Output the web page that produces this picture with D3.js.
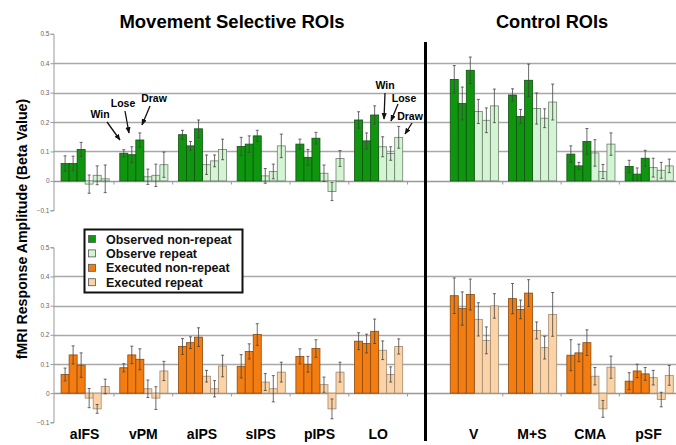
<!DOCTYPE html>
<html><head><meta charset="utf-8">
<script src="https://cdn.jsdelivr.net/npm/d3@7"></script>
<style>body{margin:0;background:#fff}svg{display:block;font-family:Arial,"Liberation Sans",sans-serif}</style>
</head><body><svg id="c" width="676" height="445"></svg>
<script>
const categoriesMove = ["aIFS","vPM","aIPS","sIPS","pIPS","LO"];
const categoriesCtrl = ["V","M+S","CMA","pSF"];
const categories = categoriesMove.concat(categoriesCtrl);
const conditions = ["Win","Lose","Draw"];
const yTicks = [-0.1,0,0.1,0.2,0.3,0.4,0.5];
const gridTicks = [0.1,0.2,0.3,0.4];
const legendLabels = ["Observed non-repeat","Observe repeat","Executed non-repeat","Executed repeat"];

const obsNonRepeat = [[0.059,0.059,0.107],[0.094,0.089,0.139],[0.157,0.119,0.177],[0.117,0.125,0.153],[0.125,0.080,0.145],[0.207,0.136,0.224],[0.345,0.263,0.376],[0.292,0.219,0.342],[0.091,0.051,0.134],[0.049,0.023,0.077]];
const obsNonRepeatErr = [[0.026,0.025,0.024],[0.012,0.027,0.024],[0.015,0.015,0.030],[0.031,0.028,0.019],[0.017,0.027,0.020],[0.028,0.027,0.031],[0.047,0.056,0.045],[0.021,0.024,0.055],[0.028,0.012,0.044],[0.021,0.021,0.027]];
const obsRepeat = [[-0.011,0.019,0.007],[0.014,0.019,0.055],[0.055,0.068,0.107],[0.017,0.032,0.119],[0.026,-0.036,0.076],[0.116,0.093,0.148],[0.236,0.206,0.255],[0.246,0.213,0.268],[0.095,0.032,0.125],[0.045,0.036,0.051]];
const obsRepeatErr = [[0.031,0.032,0.047],[0.026,0.038,0.043],[0.033,0.020,0.035],[0.025,0.025,0.040],[0.028,0.031,0.027],[0.034,0.023,0.037],[0.041,0.042,0.057],[0.053,0.032,0.061],[0.045,0.024,0.038],[0.032,0.027,0.023]];
const exeNonRepeat = [[0.064,0.131,0.096],[0.087,0.131,0.116],[0.160,0.173,0.192],[0.092,0.143,0.201],[0.126,0.099,0.153],[0.178,0.170,0.212],[0.334,0.290,0.338],[0.324,0.287,0.343],[0.130,0.138,0.173],[0.041,0.076,0.066]];
const exeNonRepeatErr = [[0.022,0.031,0.042],[0.014,0.030,0.036],[0.027,0.020,0.032],[0.040,0.026,0.037],[0.026,0.027,0.030],[0.029,0.032,0.042],[0.061,0.057,0.053],[0.052,0.032,0.046],[0.053,0.030,0.044],[0.029,0.023,0.022]];
const exeRepeat = [[-0.017,-0.054,0.023],[0.015,-0.017,0.076],[0.058,0.015,0.093],[0.038,0.015,0.072],[0.029,-0.054,0.072],[0.147,0.064,0.160],[0.253,0.181,0.299],[0.215,0.156,0.270],[0.058,-0.054,0.089],[0.053,-0.022,0.061]];
const exeRepeatErr = [[0.033,0.015,0.025],[0.030,0.039,0.033],[0.020,0.028,0.037],[0.029,0.045,0.034],[0.026,0.034,0.034],[0.032,0.026,0.026],[0.057,0.046,0.042],[0.029,0.039,0.075],[0.030,0.029,0.038],[0.025,0.025,0.034]];

const colors = {obsNR:"#0f960f", obsR:"#d3f5d3", exeNR:"#f47d12", exeR:"#fcd3a6"};
const strokes = {obsNR:"#145214", obsR:"#6f806f", exeNR:"#8a4a10", exeR:"#a08a70"};

const svg = d3.select("#c");
const W = 676;

const xMove = d3.scaleBand().domain(categoriesMove).range([55.3, 407.5]).paddingInner(0.18).paddingOuter(0.09);
const xCtrl = d3.scaleBand().domain(categoriesCtrl).range([444.5, 677.7]).paddingInner(0.18).paddingOuter(0.09);
const xOf = c => categoriesMove.includes(c) ? xMove : xCtrl;
const slots = d3.scaleBand().domain(d3.range(6)).range([0, xMove.bandwidth()]);

const yTop = d3.scaleLinear().domain([-0.1,0.5]).range([210.3, 33.8]);
const yBot = d3.scaleLinear().domain([-0.1,0.5]).range([422.3, 247.3]);

function panel(y, nr, nrErr, r, rErr, kNR, kR) {
  const g = svg.append("g");
  g.selectAll("line.grid").data(gridTicks).join("line")
    .attr("x1", 53.5).attr("x2", W).attr("y1", d => Math.round(y(d))+0.5).attr("y2", d => Math.round(y(d))+0.5)
    .attr("stroke", "#a8a8a8").attr("stroke-width", 1.3);
  const ax = g.append("g").attr("transform", "translate(53.5,0)")
    .call(d3.axisLeft(y).tickValues(yTicks).tickSize(3).tickFormat(d3.format("")));
  ax.select(".domain").attr("stroke", "#999");
  ax.selectAll(".tick line").attr("stroke", "#999");
  ax.selectAll(".tick text").attr("font-size", 6.5).attr("fill", "#666").attr("x", -4);
  const y0 = Math.round(y(0)) + 0.5;
  g.append("line").attr("x1", 53.5).attr("x2", W).attr("y1", y0).attr("y2", y0).attr("stroke", "#999").attr("stroke-width", 1.3);
  [xMove, xCtrl].forEach(sc => {
    const b = sc.domain().map((d,i) => sc.range()[0] + (i+1)*sc.step());
    g.selectAll(null).data(b.filter(v => v < W)).join("line")
      .attr("x1", d => d).attr("x2", d => d).attr("y1", y0).attr("y2", y0 + 3)
      .attr("stroke", "#999");
  });
  const items = [];
  categories.forEach((c, ci) => {
    for (let k = 0; k < 3; k++) {
      items.push({c, slot: k, v: nr[ci][k], e: nrErr[ci][k], key: kNR});
      items.push({c, slot: k+3, v: r[ci][k], e: rErr[ci][k], key: kR});
    }
  });
  g.selectAll("rect.bar").data(items).join("rect")
    .attr("x", d => xOf(d.c)(d.c) + slots(d.slot) + 0.5)
    .attr("width", slots.bandwidth())
    .attr("y", d => y(Math.max(0, d.v)))
    .attr("height", d => Math.abs(y(d.v) - y(0)))
    .attr("fill", d => colors[d.key]).attr("stroke", d => strokes[d.key]).attr("stroke-width", 0.8);
  const eg = g.selectAll("g.err").data(items).join("g")
    .attr("transform", d => `translate(${xOf(d.c)(d.c) + slots(d.slot) + 0.5 + slots.bandwidth()/2},0)`);
  eg.append("line").attr("y1", d => y(d.v - d.e)).attr("y2", d => y(d.v + d.e)).attr("stroke", "#444").attr("stroke-width", 0.8);
  eg.append("line").attr("x1", -1.5).attr("x2", 1.5).attr("y1", d => y(d.v + d.e)).attr("y2", d => y(d.v + d.e)).attr("stroke", "#444").attr("stroke-width", 0.8);
  eg.append("line").attr("x1", -1.5).attr("x2", 1.5).attr("y1", d => y(d.v - d.e)).attr("y2", d => y(d.v - d.e)).attr("stroke", "#444").attr("stroke-width", 0.8);
}

panel(yTop, obsNonRepeat, obsNonRepeatErr, obsRepeat, obsRepeatErr, "obsNR", "obsR");
panel(yBot, exeNonRepeat, exeNonRepeatErr, exeRepeat, exeRepeatErr, "exeNR", "exeR");

svg.append("line").attr("x1", 425.5).attr("x2", 425.5).attr("y1", 42).attr("y2", 441).attr("stroke", "#000").attr("stroke-width", 3);

svg.append("text").attr("x", 232).attr("y", 28).attr("text-anchor", "middle").attr("font-size", 18.5).attr("font-weight", "bold").text("Movement Selective ROIs");
svg.append("text").attr("x", 552).attr("y", 28).attr("text-anchor", "middle").attr("font-size", 18.2).attr("font-weight", "bold").text("Control ROIs");

svg.append("text").attr("transform", "translate(27,229) rotate(-90)").attr("text-anchor", "middle")
  .attr("font-size", 14.2).attr("font-weight", "bold").text("fMRI Response Amplitude (Beta Value)");

svg.selectAll("text.cat").data(categories).join("text")
  .attr("x", c => xOf(c)(c) + xOf(c).bandwidth()/2).attr("y", 439)
  .attr("text-anchor", "middle").attr("font-size", 14).attr("font-weight", "bold").text(c => c);

const lg = svg.append("g");
lg.append("rect").attr("x", 84.5).attr("y", 229.5).attr("width", 158).attr("height", 63).attr("fill", "#fff").attr("stroke", "#111").attr("stroke-width", 2);
const lkeys = ["obsNR","obsR","exeNR","exeR"];
legendLabels.forEach((t, i) => {
  const yy = 239 + i*14.4;
  lg.append("rect").attr("x", 88.5).attr("y", yy - 3.5).attr("width", 7).attr("height", 7)
    .attr("fill", colors[lkeys[i]]).attr("stroke", "#555").attr("stroke-width", 0.8);
  lg.append("text").attr("x", 106).attr("y", yy + 4.5).attr("font-size", 12.5).attr("font-weight", "bold").attr("fill", "#111").text(t);
});

const ann = [
  {t: conditions[0], x: 100, y: 118, ax1: 107, ay1: 122, ax2: 120, ay2: 140},
  {t: conditions[1], x: 123, y: 107, ax1: 125, ay1: 111, ax2: 129, ay2: 133},
  {t: conditions[2], x: 154, y: 102, ax1: 150, ay1: 106, ax2: 142, ay2: 125},
  {t: conditions[0], x: 385, y: 89, ax1: 385, ay1: 93, ax2: 384, ay2: 119},
  {t: conditions[1], x: 404, y: 102, ax1: 398, ay1: 104, ax2: 391, ay2: 121},
  {t: conditions[2], x: 410, y: 120, ax1: 412, ay1: 123, ax2: 405, ay2: 134}
];
const defs = svg.append("defs");
defs.append("marker").attr("id", "ah").attr("viewBox", "0 0 10 10").attr("refX", 9).attr("refY", 5)
  .attr("markerWidth", 5).attr("markerHeight", 5).attr("orient", "auto")
  .append("path").attr("d", "M0,1 L10,5 L0,9 Z").attr("fill", "#111");
ann.forEach(a => {
  svg.append("text").attr("x", a.x).attr("y", a.y).attr("text-anchor", "middle").attr("font-size", 10.5).attr("font-weight", "bold").text(a.t);
  svg.append("line").attr("x1", a.ax1).attr("y1", a.ay1).attr("x2", a.ax2).attr("y2", a.ay2)
    .attr("stroke", "#111").attr("stroke-width", 1.3).attr("marker-end", "url(#ah)");
});
</script></body></html>
